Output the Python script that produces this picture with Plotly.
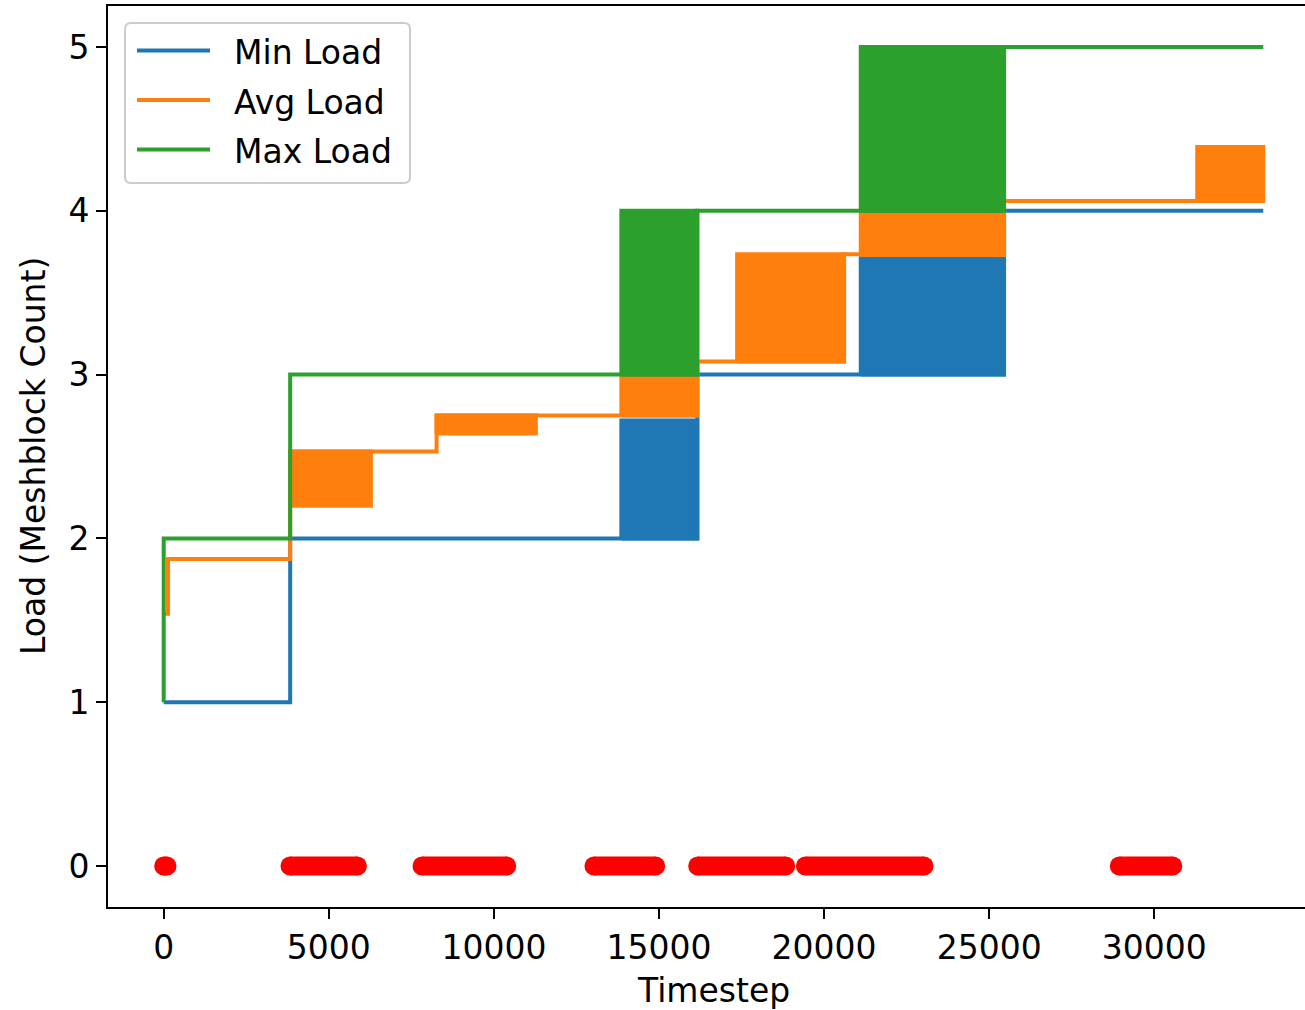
import plotly.graph_objects as go

# ---------------- data ----------------
# step lines (post-step): value holds from x[i] until x[i+1]
min_x = [0, 3830, 16160, 25450, 33300]
min_y = [1, 2, 3, 4, 4]
avg_x = [0, 130, 3830, 8264, 16160, 20605, 25450, 33300]
avg_y = [1.54, 1.875, 2.53, 2.75, 3.08, 3.735, 4.06, 4.06]
max_x = [0, 0, 3830, 16160, 25450, 33300]
max_y = [1, 2, 3, 4, 5, 5]

# rapidly oscillating periods (drawn as solid bands)
min_band_start = [13860, 21110]
min_band_end = [16160, 25450]
min_band_low = [2.0, 3.0]
min_band_high = [2.72, 3.71]

avg_band_start = [3830, 8264, 13860, 17366, 21110, 31300]
avg_band_end = [6275, 11270, 16160, 20605, 25450, 33300]
avg_band_low = [2.20, 2.64, 2.75, 3.08, 3.73, 4.06]
avg_band_high = [2.53, 2.75, 3.00, 3.735, 4.00, 4.39]

max_band_start = [13860, 21110]
max_band_end = [16160, 25450]
max_band_low = [3.0, 4.0]
max_band_high = [4.0, 5.0]

# rebalancing events at load 0 (runs of consecutive events)
event_start = [0, 3825, 7823, 13030, 16172, 19433, 28940]
event_end = [100, 5866, 10388, 14900, 18837, 23026, 30560]

series_names = ["Min Load", "Avg Load", "Max Load"]
colors = ["#1f77b4", "#ff7f0e", "#2ca02c"]
x_ticks = [0, 5000, 10000, 15000, 20000, 25000, 30000]
y_ticks = [0, 1, 2, 3, 4, 5]

FONT = "DejaVu Sans"
LW = 4

fig = go.Figure()


def band_trace(starts, ends, lows, highs, color):
    xs, ys = [], []
    for s, e, lo, hi in zip(starts, ends, lows, highs):
        xs += [s, e, e, s, s, None]
        ys += [lo, lo, hi, hi, lo, None]
    return go.Scatter(x=xs, y=ys, mode="lines", fill="toself", fillcolor=color,
                      line=dict(color=color, width=LW), showlegend=False,
                      hoverinfo="skip")


steps = [(min_x, min_y), (avg_x, avg_y), (max_x, max_y)]
bands = [
    (min_band_start, min_band_end, min_band_low, min_band_high),
    (avg_band_start, avg_band_end, avg_band_low, avg_band_high),
    (max_band_start, max_band_end, max_band_low, max_band_high),
]
for (sx, sy), bd, name, col in zip(steps, bands, series_names, colors):
    fig.add_trace(go.Scatter(x=sx, y=sy, mode="lines", name=name,
                             line=dict(color=col, width=LW, shape="hv"),
                             showlegend=False))
    fig.add_trace(band_trace(*bd, col))

ex, ey = [], []
for s, e in zip(event_start, event_end):
    ex += [s, e, None]
    ey += [0, 0, None]
fig.add_trace(go.Scatter(x=ex, y=ey, mode="lines+markers",
                         line=dict(color="#ff0000", width=19),
                         marker=dict(color="#ff0000", size=19, line=dict(width=0)),
                         showlegend=False, name="Rebalance"))

# ---------------- layout ----------------
W, H = 1305, 1010
L, R, T, B = 108, 1305, 6, 907


def px(x):
    return (x - L) / (R - L)


def py(y):
    return (B - y) / (B - T)


fig.update_layout(
    width=W, height=H,
    margin=dict(l=L, r=W - R, t=T, b=H - B, pad=0),
    paper_bgcolor="white", plot_bgcolor="white",
    font=dict(family=FONT, size=33, color="black"),
    showlegend=False,
)
fig.update_xaxes(range=[-1687, 34564], tickvals=x_ticks,
                 ticktext=[str(v) for v in x_ticks],
                 showgrid=False, zeroline=False,
                 showline=True, linecolor="black", linewidth=2, mirror=True,
                 ticks="outside", ticklen=10, tickwidth=2, tickcolor="black",
                 tickfont=dict(family=FONT, size=33, color="black"))
fig.update_yaxes(range=[-0.25, 5.25], tickvals=y_ticks,
                 ticktext=[str(v) for v in y_ticks],
                 showgrid=False, zeroline=False,
                 showline=True, linecolor="black", linewidth=2, mirror=False,
                 ticks="outside", ticklen=10, tickwidth=2, tickcolor="black",
                 tickfont=dict(family=FONT, size=33, color="black"))

annotations = [
    dict(text="Timestep", xref="paper", yref="paper", x=px(713), y=py(990),
         xanchor="center", yanchor="middle", showarrow=False,
         font=dict(family=FONT, size=33, color="black")),
    dict(text="Load (Meshblock Count)", xref="paper", yref="paper", x=px(33), y=py(456),
         xanchor="center", yanchor="middle", showarrow=False, textangle=-90,
         font=dict(family=FONT, size=33, color="black")),
]

# legend box (manual, matplotlib-style)
bx0, by0, bx1, by1, r = 125, 23, 410, 183, 6
rx = r / (R - L)
ry = r / (B - T)
X0, X1, Y0, Y1 = px(bx0), px(bx1), py(by1), py(by0)
path = (f"M {X0+rx},{Y0} L {X1-rx},{Y0} Q {X1},{Y0} {X1},{Y0+ry} "
        f"L {X1},{Y1-ry} Q {X1},{Y1} {X1-rx},{Y1} L {X0+rx},{Y1} "
        f"Q {X0},{Y1} {X0},{Y1-ry} L {X0},{Y0+ry} Q {X0},{Y0} {X0+rx},{Y0} Z")
shapes = [dict(type="path", path=path, xref="paper", yref="paper",
               fillcolor="rgba(255,255,255,0.8)", line=dict(color="#cccccc", width=2))]
row_y = [50.5, 100, 149.5]
for name, col, yy in zip(series_names, colors, row_y):
    shapes.append(dict(type="line", xref="paper", yref="paper",
                       x0=px(137), x1=px(210), y0=py(yy), y1=py(yy),
                       line=dict(color=col, width=LW)))
    annotations.append(dict(text=name, xref="paper", yref="paper", x=px(232), y=py(yy + 2),
                            xanchor="left", yanchor="middle", showarrow=False,
                            font=dict(family=FONT, size=33, color="black")))

fig.update_layout(shapes=shapes, annotations=annotations)
fig.write_html("out.html")
